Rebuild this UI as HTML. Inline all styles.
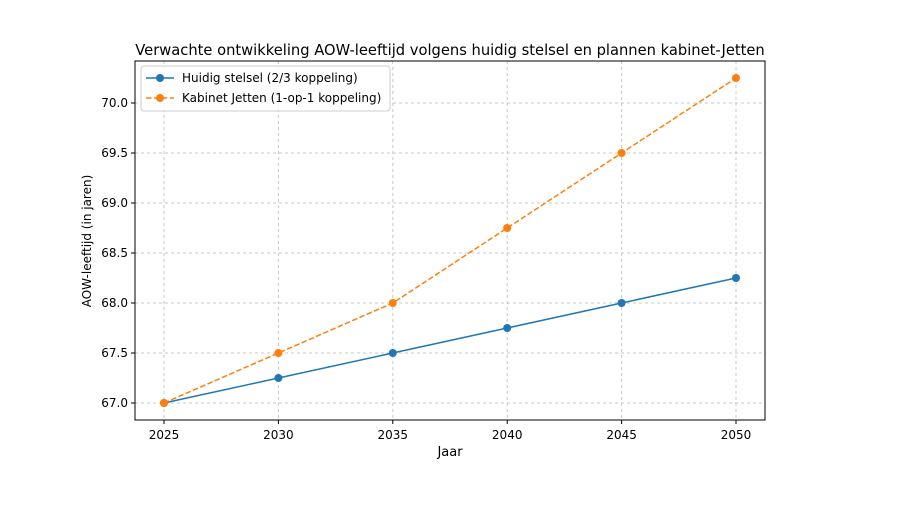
<!DOCTYPE html>
<html><head><meta charset="utf-8"><style>
body{margin:0;background:#fff;}
svg text{font-family:"DejaVu Sans","Liberation Sans",sans-serif;fill:#000;}
</style></head><body>
<svg id="chart" width="900" height="500" xmlns="http://www.w3.org/2000/svg">
<rect width="900" height="500" fill="#fff"/>
<text x="450" y="55" font-size="14.7" text-anchor="middle">Verwachte ontwikkeling AOW-leeftijd volgens huidig stelsel en plannen kabinet-Jetten</text>
<g id="grid"></g>
<g id="ticks"></g>
<g id="series"></g>
<rect x="135" y="61" width="630" height="359" fill="none" stroke="#000" stroke-width="1"/>
<text x="450" y="456" font-size="13" text-anchor="middle">Jaar</text>
<text transform="translate(91,241) rotate(-90)" font-size="12" text-anchor="middle">AOW-leeftijd (in jaren)</text>
<g>
<rect x="141" y="66" width="249" height="45" rx="3" fill="#fff" fill-opacity="0.8" stroke="#ccc"/>
<g>
<line x1="146" y1="78" x2="174" y2="78" stroke="#1f77b4" stroke-width="1.5"/>
<circle cx="160" cy="78" r="4" fill="#1f77b4"/>
<text x="182" y="82" font-size="12">Huidig stelsel (2/3 koppeling)</text></g>
<g>
<line x1="146" y1="98" x2="174" y2="98" stroke="#ff7f0e" stroke-width="1.5" stroke-dasharray="5.5,2.4"/>
<circle cx="160" cy="98" r="4" fill="#ff7f0e"/>
<text x="182" y="102" font-size="12">Kabinet Jetten (1-op-1 koppeling)</text></g>
</g>
</svg>
<script>
const years=[2025,2030,2035,2040,2045,2050];
const huidig=[67.0,67.25,67.5,67.75,68.0,68.25];
const jetten=[67.0,67.5,68.0,68.75,69.5,70.25];
const yTicks=[67.0,67.5,68.0,68.5,69.0,69.5,70.0];
const NS="http://www.w3.org/2000/svg";
const xs=v=>164+(v-2025)*(736-164)/25;
const ys=v=>403-(v-67)*100;
function mk(t,a,p){const e=document.createElementNS(NS,t);for(const k in a)e.setAttribute(k,a[k]);p.appendChild(e);return e;}
const grid=document.getElementById('grid'),ticks=document.getElementById('ticks'),ser=document.getElementById('series');
years.forEach(y=>{const x=xs(y);
const g=mk('line',{x1:x,x2:x,y1:61,y2:420,stroke:'#b0b0b0','stroke-dasharray':'3,3','stroke-opacity':0.7},grid);


mk('line',{x1:x,x2:x,y1:420,y2:424,stroke:'#000'},ticks);
const t=mk('text',{x:x,y:439,'font-size':12,'text-anchor':'middle'},ticks);t.textContent=y;

});
yTicks.forEach(v=>{const y=ys(v);
const g=mk('line',{x1:135,x2:765,y1:y,y2:y,stroke:'#b0b0b0','stroke-dasharray':'3,3','stroke-opacity':0.7},grid);


mk('line',{x1:131,x2:135,y1:y,y2:y,stroke:'#000'},ticks);
const t=mk('text',{x:128,y:y+4,'font-size':12,'text-anchor':'end'},ticks);t.textContent=v.toFixed(1);

});
function draw(vals,color,dash,name){
const pts=years.map((y,i)=>xs(y)+','+ys(vals[i])).join(' ');
const a={points:pts,fill:'none',stroke:color,'stroke-width':1.5};if(dash)a['stroke-dasharray']=dash;
const l=mk('polyline',a,ser);


years.forEach((y,i)=>{const c=mk('circle',{cx:xs(y),cy:ys(vals[i]),r:4,fill:color},ser);

});}
draw(huidig,'#1f77b4',null,'huidig');
draw(jetten,'#ff7f0e','5.5,2.4','jetten');
</script>
</body></html>
